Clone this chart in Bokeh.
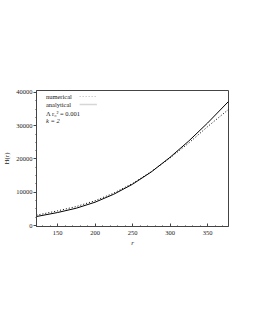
from bokeh.plotting import figure
from bokeh.models import Range1d, FixedTicker, Label, PolyAnnotation
from bokeh.embed import file_html
from bokeh.resources import INLINE

r_vals = [122, 150, 175, 200, 225, 250, 275, 300, 325, 350, 378]
h_analytical = [2700, 3900, 5200, 7000, 9400, 12400, 16100, 20500, 25400, 30800, 37300]
h_numerical = [3100, 4400, 5700, 7450, 9750, 12650, 16200, 20300, 24800, 29700, 34900]

x_ticks = [150, 200, 250, 300, 350]
y_ticks = [0, 10000, 20000, 30000, 40000]
x_minor = [130, 140, 160, 170, 180, 190, 210, 220, 230, 240, 260, 270, 280, 290,
           310, 320, 330, 340, 360, 370]
y_minor = [2500, 5000, 7500, 12500, 15000, 17500, 22500, 25000, 27500, 32500, 35000, 37500]

legend_labels = ["numerical", "analytical", "\u039b r\u2080\u00b2 = 0.001", "k = 2"]

FONT = "Liberation Serif"

p = figure(width=240, height=250, output_backend="svg", toolbar_location=None,
           x_range=Range1d(122, 378), y_range=Range1d(-300, 40600),
           min_border_left=28, min_border_right=12, min_border_top=90, min_border_bottom=24)

p.grid.visible = False
p.background_fill_color = "white"
p.border_fill_color = "white"
p.outline_line_color = "#444444"
p.outline_line_width = 1

p.line(r_vals, h_numerical, line_color="black", line_width=1, line_dash="1 2")
p.line(r_vals, h_analytical, line_color="black", line_width=1)

p.xaxis.ticker = FixedTicker(ticks=x_ticks, minor_ticks=x_minor)
p.yaxis.ticker = FixedTicker(ticks=y_ticks, minor_ticks=y_minor)
for ax in (p.xaxis[0], p.yaxis[0]):
    ax.axis_line_color = "#444444"
    ax.major_tick_line_color = "#444444"
    ax.minor_tick_line_color = "#444444"
    ax.major_label_text_font = FONT
    ax.major_label_text_font_size = "6.5px"
    ax.major_label_text_color = "#222222"
    ax.axis_label_text_font = FONT
    ax.axis_label_text_font_size = "7px"
    ax.axis_label_text_font_style = "normal"
    ax.axis_label_text_color = "#222222"

p.yaxis.major_tick_out = 3
p.yaxis.major_tick_in = 0
p.yaxis.minor_tick_out = 1
p.yaxis.minor_tick_in = 0
p.yaxis.major_label_standoff = 1
p.yaxis.axis_label = "H(r)"
p.yaxis.axis_label_standoff = 2

p.xaxis.major_tick_out = 0
p.xaxis.major_tick_in = 3
p.xaxis.minor_tick_out = 0
p.xaxis.minor_tick_in = 1
p.xaxis.major_label_standoff = 4
p.xaxis.axis_label = "r"
p.xaxis.axis_label_text_font_style = "italic"
p.xaxis.axis_label_standoff = 1

# legend block (top-left, labels then line samples)
leg_x = 134.5
leg_y = [38800, 36400, 33700, 31600]
for lab, yy in zip(legend_labels, leg_y):
    p.add_layout(Label(x=leg_x, y=yy, text=lab, text_font=FONT, text_font_size="6.5px",
                       text_baseline="middle", text_color="#222222",
                       text_font_style="italic" if lab.startswith("k") else "normal"))

samp_x = [179.5, 202.5]
p.add_layout(PolyAnnotation(xs=samp_x, ys=[leg_y[0], leg_y[0]], fill_alpha=0,
                            line_color="black", line_width=1, line_dash="1 2"))
p.add_layout(PolyAnnotation(xs=samp_x, ys=[leg_y[1], leg_y[1]], fill_alpha=0,
                            line_color="#777777", line_width=1.5))

open("out.html", "w").write(file_html(p, INLINE))
